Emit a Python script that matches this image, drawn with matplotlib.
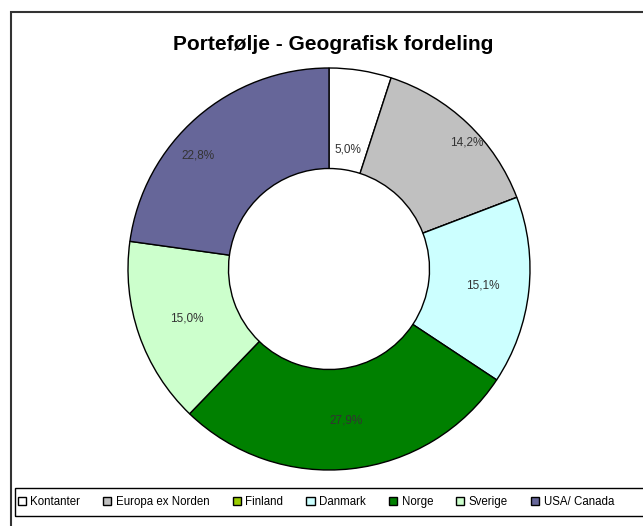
import matplotlib.pyplot as plt
import numpy as np
from matplotlib.patches import Rectangle

plt.rcParams["font.family"] = ["Liberation Sans", "DejaVu Sans"]

# portfolio split, percent
categories = ["Kontanter", "Europa ex Norden", "Finland", "Danmark", "Norge", "Sverige", "USA/ Canada"]
shares = [5.0, 14.2, 0.0, 15.1, 27.9, 15.0, 22.8]
colors = ["#ffffff", "#c0c0c0", "#99cc00", "#ccffff", "#008000", "#ccffcc", "#666699"]
title = "Portefølje - Geografisk fordeling"

# label radius per slice (Excel puts them a bit unevenly)
label_radius = [0.60, 0.93, 0.75, 0.77, 0.76, 0.75, 0.86]
label_turn = [0, 4, 0, 0, 0, 0, -8]  # degrees, clockwise


def fmt_pct(p):
    if p < 0.5:
        return ""
    return f"{p:.1f}%".replace(".", ",")


fig = plt.figure(figsize=(6.43, 5.26), dpi=100)
W, H = 643, 526
cx, cy, r = 329, 269, 201
ax = fig.add_axes([(cx - r) / W, (H - cy - r) / H, 2 * r / W, 2 * r / H])

wedges, texts, autotexts = ax.pie(
    shares,
    colors=colors,
    startangle=90,
    counterclock=False,
    radius=1.0,
    autopct=fmt_pct,
    pctdistance=0.75,
    wedgeprops=dict(width=0.5, edgecolor="black", linewidth=1.0),
    textprops=dict(fontsize=8.5, color="#333333"),
)
ax.set_xlim(-1, 1)
ax.set_ylim(-1, 1)
ax.set_aspect("equal")
ax.axis("off")

cum = np.cumsum([0] + shares)
for i, t in enumerate(autotexts):
    mid = (cum[i] + cum[i + 1]) / 2 / 100.0
    ang = np.deg2rad(90 - mid * 360 - label_turn[i])
    t.set_position((label_radius[i] * np.cos(ang), label_radius[i] * np.sin(ang)))
    t.set_ha("center")
    t.set_va("center")

fig.text(333 / W, 1 - 44 / H, title, ha="center", va="center", fontsize=15, fontweight="bold")

# outer chart frame (runs off the right/bottom edge in the original)
fig.patches.append(Rectangle((11 / W, -0.05), 1.2, 1 - 12 / H + 0.05, transform=fig.transFigure,
                             fill=False, edgecolor="#333333", linewidth=1.5, clip_on=False))
# legend box, also cut by the right edge
fig.patches.append(Rectangle((15 / W, 1 - 516 / H), 1.2, 28 / H, transform=fig.transFigure,
                             fill=False, edgecolor="black", linewidth=1.0, clip_on=False))

leg = fig.legend(
    wedges, categories,
    loc="center left",
    bbox_to_anchor=(13 / W, 1 - 502 / H),
    ncol=7,
    frameon=False,
    fontsize=8.3,
    handlelength=0.7,
    handleheight=0.7,
    handletextpad=0.4,
    columnspacing=2.0,
    borderaxespad=0,
)
for h in leg.legend_handles:
    h.set_edgecolor("black")
    h.set_linewidth(1.0)

fig.savefig("out.png", dpi=100)
